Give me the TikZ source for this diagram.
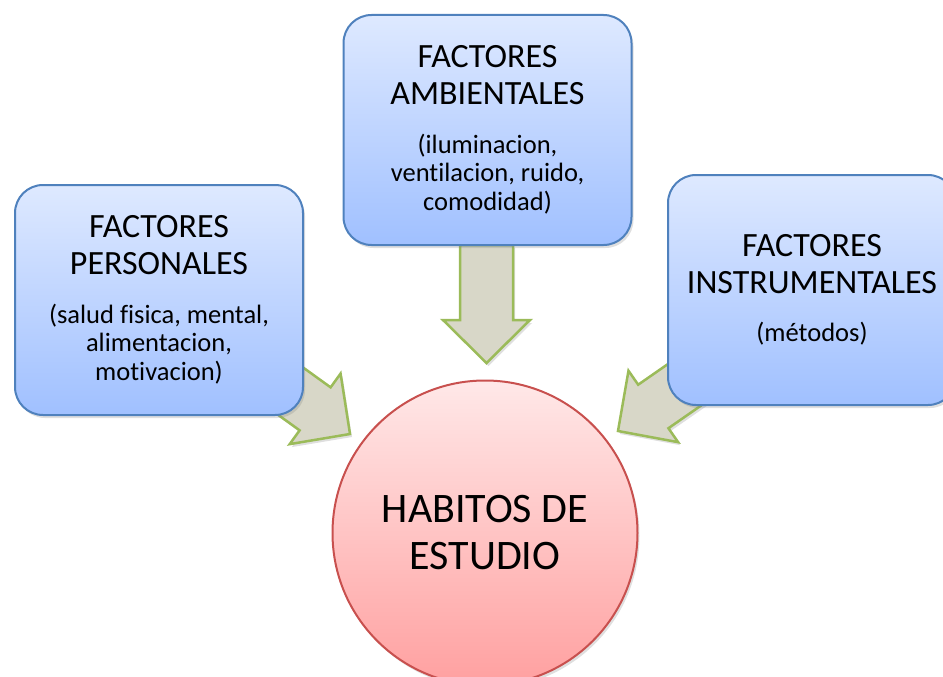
\documentclass[tikz,border=0pt]{standalone}
\usepackage{fontspec}
\setmainfont{Carlito}[Ligatures=NoCommon]
\usetikzlibrary{shadows, positioning}

\definecolor{boxline}{RGB}{79,129,189}
\definecolor{boxtop}{RGB}{222,233,255}
\definecolor{boxbottom}{RGB}{160,192,255}
\definecolor{circline}{RGB}{200,80,78}
\definecolor{circtop}{RGB}{255,232,232}
\definecolor{circbottom}{RGB}{255,160,160}
\definecolor{arrowfill}{RGB}{216,215,200}
\definecolor{arrowline}{RGB}{155,187,89}

\newcommand{\factorfont}{\fontsize{34}{37}\selectfont}
\newcommand{\factorarrow}[2]{%
  \draw[blockarrow, shift={(#1)}, rotate=#2] (0,0) -- (-43,43.5) -- (-43,26.5) -- (-118,26.5)
    -- (-118,-26.5) -- (-43,-26.5) -- (-43,-43.5) -- cycle;}

\tikzset{
  softshadow/.style={drop shadow={opacity=0.25, shadow xshift=2pt, shadow yshift=-3pt}},
  factor/.style={draw=boxline, line width=2pt, rounded corners=28pt, top color=boxtop,
    bottom color=boxbottom, minimum width=288pt, minimum height=230pt, inner sep=0pt,
    align=center, font=\fontsize{26.5}{28.5}\selectfont, softshadow},
  habits/.style={circle, draw=circline, line width=2pt, top color=circtop,
    bottom color=circbottom, minimum size=305pt, inner sep=0pt, align=center,
    font=\fontsize{42}{47}\selectfont, softshadow},
  blockarrow/.style={draw=arrowline, fill=arrowfill, line width=2.5pt, softshadow}
}

\begin{document}
\begin{tikzpicture}[x=1pt, y=-1pt]
  \useasboundingbox (0,0) rectangle (943,677);
  \clip (0,0) rectangle (943,677);

  % Arrow tips
  \coordinate (tipP) at (350,434);
  \coordinate (tipA) at (486.5,363);
  \coordinate (tipI) at (618,431);

  % Block arrows
  \factorarrow{tipP}{-35.8}
  \factorarrow{tipA}{-90}
  \factorarrow{tipI}{-145.2}

  % Factors
  \node[factor] (personal) at (159,300)
    {{\factorfont FACTORES}\\[8.5pt]{\factorfont PERSONALES}\\[20pt](salud fisica, mental,\\alimentacion,\\motivacion)};
  \node[factor] (ambient) at (487.5,130)
    {{\factorfont FACTORES}\\[8.5pt]{\factorfont AMBIENTALES}\\[20pt](iluminacion,\\ventilacion, ruido,\\comodidad)};
  \node[factor] (instrum) at (812,290)
    {{\factorfont FACTORES}\\[8.5pt]{\factorfont INSTRUMENTALES}\\[19pt](métodos)};

  % Study habits
  \node[habits] (habits) at (485,533) {HABITOS DE\\ESTUDIO};
\end{tikzpicture}
\end{document}
